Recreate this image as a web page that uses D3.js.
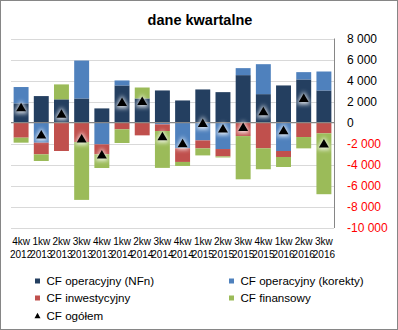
<!DOCTYPE html>
<html>
<head>
<meta charset="utf-8">
<script src="https://cdn.jsdelivr.net/npm/d3@7"></script>
<style>
  body { margin: 0; background: #fff; }
  svg { display: block; font-family: "Liberation Sans", Arial, sans-serif; }
</style>
</head>
<body>
<div id="chart"></div>
<script>
// quarters (two-line labels)
const quarters = ['4kw','1kw','2kw','3kw','4kw','1kw','2kw','3kw','4kw','1kw','2kw','3kw','4kw','1kw','2kw','3kw'];
const years = ['2012','2013','2013','2013','2013','2014','2014','2014','2014','2015','2015','2015','2015','2016','2016','2016'];

// series values (PLN thousands)
const cfNfn      = [1840, 2530, 2220, 2305, 1360, 3540, 2305, 3065, 2115, 3160, 2905, 4520, 2715, 3540, 4110, 3065];
const cfKorekty  = [1550, -1900, 0, 3600, -2055, 475, 0, -160, -2430, -1680, -2500, 665, 2845, -2685, 695, 1800];
const cfInwest   = [-1420, -1105, -2685, -1830, -950, -630, -1200, -630, -1295, -760, -700, -1265, -2430, -570, -1360, -1010];
const cfFinans   = [-475, -630, 1420, -5500, -1295, -1295, 1040, -3500, -380, -665, -100, -4110, -1990, -950, -1075, -5780];
const cfOgolem   = [1500, -1090, 870, -1470, -3000, 2000, 2080, -1250, -1930, 0, -520, -380, 1120, -700, 2370, -1950];

const yTicks = [8000, 6000, 4000, 2000, 0, -2000, -4000, -6000, -8000, -10000];

const seriesNames = ['CF operacyjny (NFn)', 'CF operacyjny (korekty)', 'CF inwestycyjny', 'CF finansowy'];
const colors = ['#243f60', '#4f81bd', '#c0504d', '#9bbb59'];

const dims = { width: 398, height: 330, left: 11, right: 334, top: 38.5, bottom: 228 };

const rows = quarters.map((q, i) => ({
  i: i, s0: cfNfn[i], s1: cfKorekty[i], s2: cfInwest[i], s3: cfFinans[i]
}));

const svg = d3.select('#chart').append('svg')
  .attr('width', dims.width)
  .attr('height', dims.height);

// glow for the total markers
const defs = svg.append('defs');
defs.append('filter').attr('id', 'glow')
  .attr('x', '-100%').attr('y', '-100%').attr('width', '300%').attr('height', '300%')
  .append('feGaussianBlur').attr('stdDeviation', 2.2);

// outer frame
svg.append('rect')
  .attr('x', 0.5).attr('y', 0.5)
  .attr('width', dims.width - 1).attr('height', dims.height - 1)
  .attr('fill', '#fff').attr('stroke', '#868686');

svg.append('text')
  .attr('x', 200).attr('y', 25)
  .attr('text-anchor', 'middle')
  .attr('font-size', '14.5px').attr('font-weight', 'bold')
  .text('dane kwartalne');

const xScale = d3.scaleBand()
  .domain(d3.range(quarters.length))
  .range([dims.left, dims.right])
  .paddingInner(0.26).paddingOuter(0.13);

const yScale = d3.scaleLinear()
  .domain([-10000, 8000])
  .range([dims.bottom, dims.top]);

// gridlines
svg.append('g').selectAll('line')
  .data(yTicks.filter(d => d !== 0))
  .join('line')
  .attr('x1', dims.left).attr('x2', dims.right)
  .attr('y1', d => Math.round(yScale(d)) + 0.5)
  .attr('y2', d => Math.round(yScale(d)) + 0.5)
  .attr('stroke', '#d9d9d9');

// stacked bars (positives up, negatives down)
const stack = d3.stack().keys(['s0', 's1', 's2', 's3']).offset(d3.stackOffsetDiverging);
const layers = stack(rows);

svg.append('g').selectAll('g')
  .data(layers)
  .join('g')
  .attr('fill', (d, i) => colors[i])
  .selectAll('rect')
  .data(d => d)
  .join('rect')
  .attr('x', d => xScale(d.data.i))
  .attr('width', xScale.bandwidth())
  .attr('y', d => yScale(Math.max(d[0], d[1])))
  .attr('height', d => Math.abs(yScale(d[0]) - yScale(d[1])));

// zero line
svg.append('line')
  .attr('x1', dims.left).attr('x2', dims.right)
  .attr('y1', yScale(0)).attr('y2', yScale(0))
  .attr('stroke', '#868686').attr('stroke-width', 1.2);

// right axis
const yAxisX = dims.right + 0.5;
svg.append('line')
  .attr('x1', yAxisX).attr('x2', yAxisX)
  .attr('y1', dims.top).attr('y2', dims.bottom)
  .attr('stroke', '#868686');

const fmt = v => d3.format(',')(v).replace(/,/g, '\u00a0').replace('\u2212', '-');
svg.append('g').selectAll('text')
  .data(yTicks)
  .join('text')
  .attr('x', 347)
  .attr('y', d => yScale(d))
  .attr('dy', '0.35em')
  .attr('font-size', '12px')
  .attr('fill', d => d < 0 ? '#ff0000' : '#000')
  .text(d => fmt(d));

// category labels
const xLab = svg.append('g').attr('font-size', '10px').attr('text-anchor', 'middle');
xLab.selectAll('text.q')
  .data(quarters)
  .join('text').attr('class', 'q')
  .attr('x', (d, i) => xScale(i) + xScale.bandwidth() / 2)
  .attr('y', 245)
  .text(d => d);
xLab.selectAll('text.yr')
  .data(years)
  .join('text').attr('class', 'yr')
  .attr('x', (d, i) => xScale(i) + xScale.bandwidth() / 2)
  .attr('y', 257.5)
  .text(d => d);

// total markers
const tri = (w, h) => `M0,${-h / 2}L${w / 2},${h / 2}L${-w / 2},${h / 2}Z`;
const marks = svg.append('g').selectAll('g')
  .data(cfOgolem)
  .join('g')
  .attr('transform', (d, i) => `translate(${xScale(i) + xScale.bandwidth() / 2},${yScale(d)})`);
marks.append('path')
  .attr('d', tri(14, 13))
  .attr('fill', '#ffffff').attr('opacity', 0.85)
  .attr('filter', 'url(#glow)');
marks.append('path')
  .attr('d', tri(10, 8.5))
  .attr('fill', '#000');

// legend
const legendItems = [
  { name: seriesNames[0], color: colors[0], x: 35, y: 281 },
  { name: seriesNames[1], color: colors[1], x: 229, y: 281 },
  { name: seriesNames[2], color: colors[2], x: 35, y: 298 },
  { name: seriesNames[3], color: colors[3], x: 229, y: 298 },
  { name: 'CF ogółem', color: null, x: 35, y: 315.5 }
];
const lg = svg.append('g').selectAll('g')
  .data(legendItems)
  .join('g')
  .attr('transform', d => `translate(${d.x},${d.y})`);
lg.filter(d => d.color).append('rect')
  .attr('x', 0).attr('y', -2.5).attr('width', 5).attr('height', 5)
  .attr('fill', d => d.color);
lg.filter(d => !d.color).append('path')
  .attr('transform', 'translate(2.5,0)')
  .attr('d', tri(6, 5.5))
  .attr('fill', '#000');
lg.append('text')
  .attr('x', 11.5).attr('dy', '0.35em')
  .attr('font-size', '11.6px')
  .text(d => d.name);
</script>
</body>
</html>
